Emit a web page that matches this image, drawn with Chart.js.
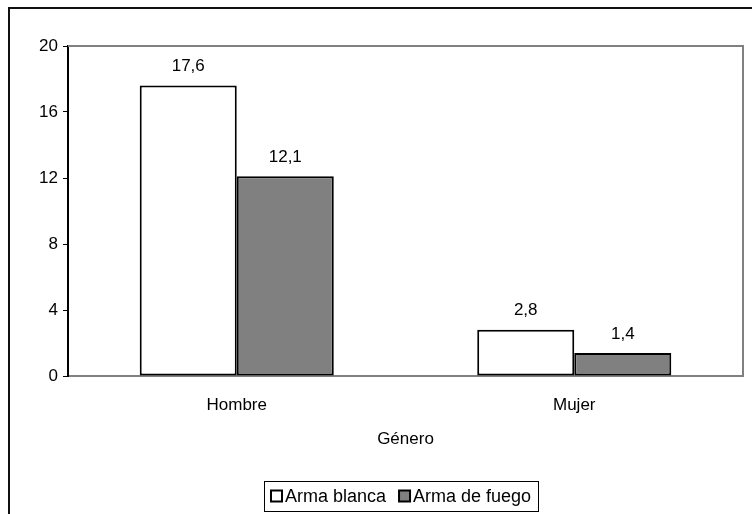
<!DOCTYPE html>
<html lang="es">
<head>
    <meta charset="UTF-8">
    <title>Género</title>
    <script src="https://cdn.jsdelivr.net/npm/chart.js"></script>
    <style>
        html, body { margin: 0; padding: 0; background: #fff; overflow: hidden; }
        .frame {
            position: absolute; left: 8px; top: 7px; width: 900px; height: 700px;
            border-left: 2px solid #111; border-top: 2px solid #111;
        }
        .wrap { position: absolute; left: 0; top: 0; width: 752px; height: 514px; }
    </style>
</head>
<body>
<div class="frame"></div>
<div class="wrap"><canvas id="chart" width="752" height="514"></canvas></div>
<script>
    // datos
    const categorias = ['Hombre', 'Mujer'];
    const armaBlanca = [17.6, 2.8];
    const armaFuego = [12.1, 1.4];
    const nombresSeries = ['Arma blanca', 'Arma de fuego'];
    const ejeY = { min: 0, max: 20, paso: 4 };

    const fuente = 'Liberation Sans, Arial, sans-serif';

    // etiquetas encima de cada barra (coma decimal)
    const etiquetas = {
        id: 'etiquetas',
        afterDatasetsDraw(chart) {
            const ctx = chart.ctx;
            ctx.save();
            ctx.font = '17px ' + fuente;
            ctx.fillStyle = '#000';
            ctx.textAlign = 'center';
            ctx.textBaseline = 'middle';
            chart.data.datasets.forEach((ds, i) => {
                chart.getDatasetMeta(i).data.forEach((bar, j) => {
                    const txt = ds.data[j].toFixed(1).replace('.', ',');
                    ctx.fillText(txt, bar.x, bar.y - 19);
                });
            });
            ctx.restore();
        }
    };

    // borde gris del area de trazado (arriba y derecha)
    const marco = {
        id: 'marco',
        beforeDatasetsDraw(chart) {
            const { ctx, chartArea: a } = chart;
            ctx.save();
            ctx.strokeStyle = '#808080';
            ctx.lineWidth = 2;
            ctx.beginPath();
            ctx.moveTo(a.left, a.top);
            ctx.lineTo(a.right, a.top);
            ctx.lineTo(a.right, a.bottom);
            ctx.stroke();
            ctx.restore();
        }
    };

    // leyenda con recuadro, como en el original
    const leyenda = {
        id: 'leyenda',
        afterDraw(chart) {
            const ctx = chart.ctx;
            ctx.save();
            ctx.font = '18px ' + fuente;
            const cuadro = 11, hueco = 3, sep = 13, pad = 7;
            const items = chart.data.datasets.map(ds => ({
                texto: ds.label, color: ds.backgroundColor, ancho: ctx.measureText(ds.label).width
            }));
            let total = pad * 2;
            items.forEach((it, i) => { total += cuadro + hueco + it.ancho + (i ? sep : 0); });
            const cx = 401, top = 481, alto = 30;
            let x = Math.round(cx - total / 2);
            ctx.strokeStyle = '#000';
            ctx.lineWidth = 1;
            ctx.strokeRect(x + 0.5, top + 0.5, Math.round(total), alto);
            x += pad;
            const cy = top + alto / 2;
            items.forEach((it, i) => {
                if (i) x += sep;
                ctx.fillStyle = it.color;
                ctx.fillRect(x, cy - cuadro / 2, cuadro, cuadro);
                ctx.lineWidth = 2;
                ctx.strokeRect(x, cy - cuadro / 2, cuadro, cuadro);
                x += cuadro + hueco;
                ctx.fillStyle = '#000';
                ctx.textBaseline = 'middle';
                ctx.fillText(it.texto, x, cy + 1);
                x += it.ancho;
            });
            ctx.restore();
        }
    };

    new Chart(document.getElementById('chart'), {
        type: 'bar',
        data: {
            labels: categorias,
            datasets: [{
                label: nombresSeries[0],
                data: armaBlanca,
                backgroundColor: '#ffffff',
                borderColor: '#000',
                borderWidth: 2,
                borderSkipped: false
            }, {
                label: nombresSeries[1],
                data: armaFuego,
                backgroundColor: '#808080',
                borderColor: '#000',
                borderWidth: 2,
                borderSkipped: false
            }]
        },
        options: {
            responsive: false,
            animation: false,
            layout: { padding: { left: 0, top: 46, right: 9, bottom: 0 } },
            datasets: { bar: { categoryPercentage: 0.575, barPercentage: 1 } },
            plugins: { legend: { display: false }, tooltip: { enabled: false } },
            scales: {
                x: {
                    afterFit(s) { s.height = 138; },
                    grid: { display: false, drawTicks: false },
                    border: { color: '#808080', width: 2 },
                    ticks: { color: '#000', font: { family: fuente, size: 17 }, padding: 19 },
                    title: {
                        display: true, text: 'Género', color: '#000',
                        font: { family: fuente, size: 17 },
                        padding: { top: 0, bottom: 64 }
                    }
                },
                y: {
                    min: ejeY.min, max: ejeY.max,
                    afterFit(s) { s.width = 68; },
                    grid: { display: true, drawOnChartArea: false, drawTicks: true, tickLength: 5, color: '#000', lineWidth: 1 },
                    border: { color: '#000', width: 2 },
                    ticks: { stepSize: ejeY.paso, color: '#000', font: { family: fuente, size: 17 }, padding: 5 }
                }
            }
        },
        plugins: [marco, etiquetas, leyenda]
    });
</script>
</body>
</html>
